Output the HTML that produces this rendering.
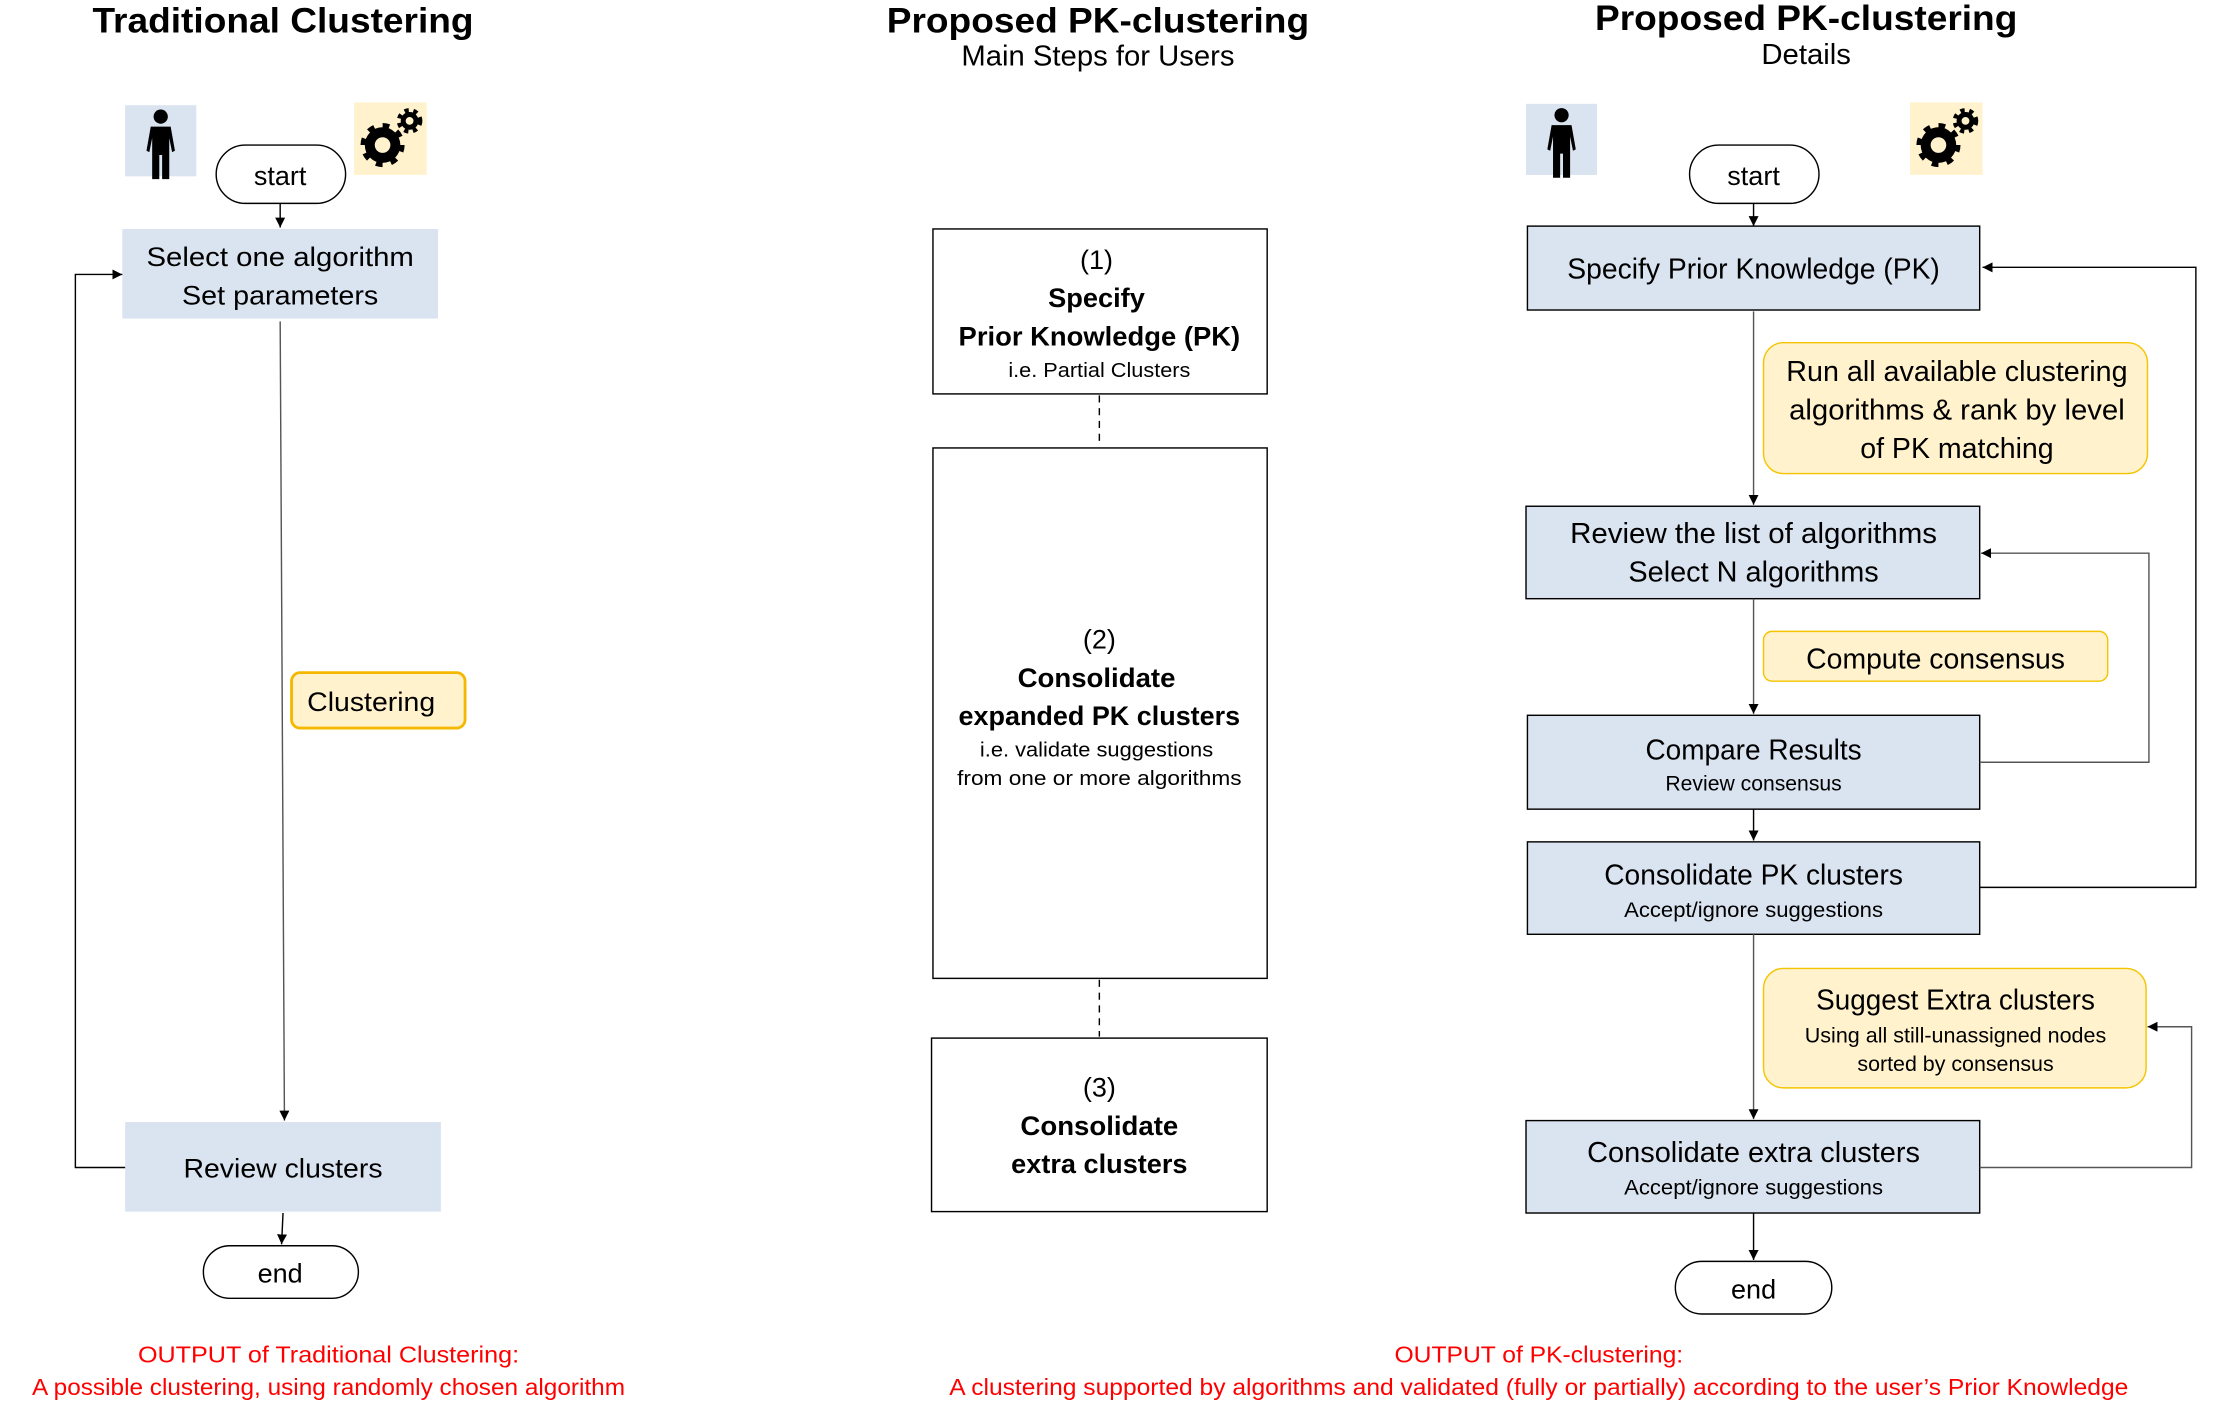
<!DOCTYPE html>
<html><head><meta charset="utf-8"><style>
html,body{margin:0;padding:0;background:#fff;}
svg{display:block;}
text{font-family:"Liberation Sans",sans-serif;}
.c{text-anchor:middle;}
</style></head><body>
<svg width="2230" height="1405" viewBox="0 0 1568 988" preserveAspectRatio="none" xmlns="http://www.w3.org/2000/svg">
<defs>
<marker id="a" viewBox="0 0 10 10" refX="10" refY="5" markerWidth="7" markerHeight="7" orient="auto" markerUnits="userSpaceOnUse"><path d="M0,0 L10,5 L0,10 z" fill="#000"/></marker>
<g id="person"><circle cx="0" cy="-19" r="5" fill="#000"/><path d="M-7,-12 L7,-12 L10,5 L8,6 L6,-4 L6,25 L1,25 L1,8 L-1,8 L-1,25 L-6,25 L-6,-4 L-8,6 L-10,5 Z" fill="#000"/></g>
<g id="gear"><circle cx="-8" cy="6" r="9" fill="none" stroke="#000" stroke-width="7"/><circle cx="-8" cy="6" r="13" fill="none" stroke="#000" stroke-width="5" stroke-dasharray="4.5 5.7"/><circle cx="11" cy="-11" r="4.5" fill="none" stroke="#000" stroke-width="3.5"/><circle cx="11" cy="-11" r="7.5" fill="none" stroke="#000" stroke-width="3" stroke-dasharray="3 3.3"/></g>
</defs>
<!-- LEFT -->
<text x="199" y="23" class="c" font-size="25" font-weight="bold" textLength="268" lengthAdjust="spacingAndGlyphs">Traditional Clustering</text>
<rect x="88" y="74" width="50" height="50" fill="#dae3f0"/>
<use href="#person" x="113" y="101"/>
<rect x="249" y="72" width="51" height="51" fill="#fff2cc"/>
<use href="#gear" x="277" y="96"/>
<rect x="152" y="102" width="91" height="41" rx="20.5" fill="#fff" stroke="#000"/>
<text x="197" y="130" class="c" font-size="19">start</text>
<line x1="197" y1="143" x2="197" y2="160" stroke="#000" marker-end="url(#a)"/>
<rect x="86" y="161" width="222" height="63" fill="#dae3f0"/>
<text x="197" y="187" class="c" font-size="19" textLength="188" lengthAdjust="spacingAndGlyphs">Select one algorithm</text>
<text x="197" y="214" class="c" font-size="19" textLength="138" lengthAdjust="spacingAndGlyphs">Set parameters</text>
<line x1="197" y1="226" x2="200" y2="788" stroke="#555" marker-end="url(#a)"/>
<rect x="205" y="473" width="122" height="39" rx="6" fill="#fff2cc" stroke="#f5b800" stroke-width="2"/>
<text x="261" y="500" class="c" font-size="19" textLength="90" lengthAdjust="spacingAndGlyphs">Clustering</text>
<rect x="88" y="789" width="222" height="63" fill="#dae3f0"/>
<text x="199" y="828" class="c" font-size="19" textLength="140" lengthAdjust="spacingAndGlyphs">Review clusters</text>
<polyline points="88,821 53,821 53,193 86,193" fill="none" stroke="#000" marker-end="url(#a)"/>
<line x1="199" y1="853" x2="198" y2="875" stroke="#000" marker-end="url(#a)"/>
<rect x="143" y="876" width="109" height="37" rx="18.5" fill="#fff" stroke="#000"/>
<text x="197" y="902" class="c" font-size="19">end</text>
<text x="231" y="958" class="c" font-size="16" fill="#f00" textLength="268" lengthAdjust="spacingAndGlyphs">OUTPUT of Traditional Clustering:</text>
<text x="231" y="981" class="c" font-size="16" fill="#f00" textLength="417" lengthAdjust="spacingAndGlyphs">A possible clustering, using randomly chosen algorithm</text>
<!-- MIDDLE -->
<text x="772" y="23" class="c" font-size="25" font-weight="bold" textLength="297" lengthAdjust="spacingAndGlyphs">Proposed PK-clustering</text>
<text x="772" y="46" class="c" font-size="20" textLength="192" lengthAdjust="spacingAndGlyphs">Main Steps for Users</text>
<rect x="656" y="161" width="235" height="116" fill="#fff" stroke="#000"/>
<text x="771" y="189" class="c" font-size="19">(1)</text>
<text x="771" y="216" class="c" font-size="19" font-weight="bold" textLength="68" lengthAdjust="spacingAndGlyphs">Specify</text>
<text x="773" y="243" class="c" font-size="19" font-weight="bold" textLength="198" lengthAdjust="spacingAndGlyphs">Prior Knowledge (PK)</text>
<text x="773" y="265" class="c" font-size="14" textLength="128" lengthAdjust="spacingAndGlyphs">i.e. Partial Clusters</text>
<line x1="773" y1="278" x2="773" y2="314" stroke="#000" stroke-dasharray="5 4"/>
<rect x="656" y="315" width="235" height="373" fill="#fff" stroke="#000"/>
<text x="773" y="456" class="c" font-size="19">(2)</text>
<text x="771" y="483" class="c" font-size="19" font-weight="bold" textLength="111" lengthAdjust="spacingAndGlyphs">Consolidate</text>
<text x="773" y="510" class="c" font-size="19" font-weight="bold" textLength="198" lengthAdjust="spacingAndGlyphs">expanded PK clusters</text>
<text x="771" y="532" class="c" font-size="14" textLength="164" lengthAdjust="spacingAndGlyphs">i.e. validate suggestions</text>
<text x="773" y="552" class="c" font-size="14" textLength="200" lengthAdjust="spacingAndGlyphs">from one or more algorithms</text>
<line x1="773" y1="689" x2="773" y2="729" stroke="#000" stroke-dasharray="5 4"/>
<rect x="655" y="730" width="236" height="122" fill="#fff" stroke="#000"/>
<text x="773" y="771" class="c" font-size="19">(3)</text>
<text x="773" y="798" class="c" font-size="19" font-weight="bold" textLength="111" lengthAdjust="spacingAndGlyphs">Consolidate</text>
<text x="773" y="825" class="c" font-size="19" font-weight="bold" textLength="124" lengthAdjust="spacingAndGlyphs">extra clusters</text>
<text x="1082" y="958" class="c" font-size="16" fill="#f00" textLength="203" lengthAdjust="spacingAndGlyphs">OUTPUT of PK-clustering:</text>
<text x="1082" y="981" class="c" font-size="16" fill="#f00" textLength="829" lengthAdjust="spacingAndGlyphs">A clustering supported by algorithms and validated (fully or partially) according to the user’s Prior Knowledge</text>
<!-- RIGHT -->
<text x="1270" y="21" class="c" font-size="25" font-weight="bold" textLength="297" lengthAdjust="spacingAndGlyphs">Proposed PK-clustering</text>
<text x="1270" y="45" class="c" font-size="20" textLength="63" lengthAdjust="spacingAndGlyphs">Details</text>
<rect x="1073" y="73" width="50" height="50" fill="#dae3f0"/>
<use href="#person" x="1098" y="100"/>
<rect x="1343" y="72" width="51" height="51" fill="#fff2cc"/>
<use href="#gear" x="1371" y="96"/>
<rect x="1188" y="102" width="91" height="41" rx="20.5" fill="#fff" stroke="#000"/>
<text x="1233" y="130" class="c" font-size="19">start</text>
<line x1="1233" y1="143" x2="1233" y2="159" stroke="#000" marker-end="url(#a)"/>
<rect x="1074" y="159" width="318" height="59" fill="#dae3f0" stroke="#000"/>
<text x="1233" y="196" class="c" font-size="20" textLength="262" lengthAdjust="spacingAndGlyphs">Specify Prior Knowledge (PK)</text>
<line x1="1233" y1="219" x2="1233" y2="355" stroke="#555" marker-end="url(#a)"/>
<rect x="1240" y="241" width="270" height="92" rx="14" fill="#fff2cc" stroke="#f5c400"/>
<text x="1376" y="268" class="c" font-size="20" textLength="240" lengthAdjust="spacingAndGlyphs">Run all available clustering</text>
<text x="1376" y="295" class="c" font-size="20" textLength="236" lengthAdjust="spacingAndGlyphs">algorithms &amp; rank by level</text>
<text x="1376" y="322" class="c" font-size="20" textLength="136" lengthAdjust="spacingAndGlyphs">of PK matching</text>
<rect x="1073" y="356" width="319" height="65" fill="#dae3f0" stroke="#000"/>
<text x="1233" y="382" class="c" font-size="20" textLength="258" lengthAdjust="spacingAndGlyphs">Review the list of algorithms</text>
<text x="1233" y="409" class="c" font-size="20" textLength="176" lengthAdjust="spacingAndGlyphs">Select N algorithms</text>
<rect x="1240" y="444" width="242" height="35" rx="6" fill="#fff2cc" stroke="#f5c400"/>
<text x="1361" y="470" class="c" font-size="20" textLength="182" lengthAdjust="spacingAndGlyphs">Compute consensus</text>
<line x1="1233" y1="421" x2="1233" y2="502" stroke="#555" marker-end="url(#a)"/>
<rect x="1074" y="503" width="318" height="66" fill="#dae3f0" stroke="#000"/>
<text x="1233" y="534" class="c" font-size="20" textLength="152" lengthAdjust="spacingAndGlyphs">Compare Results</text>
<text x="1233" y="556" class="c" font-size="15" textLength="124" lengthAdjust="spacingAndGlyphs">Review consensus</text>
<line x1="1233" y1="569" x2="1233" y2="591" stroke="#000" marker-end="url(#a)"/>
<rect x="1074" y="592" width="318" height="65" fill="#dae3f0" stroke="#000"/>
<text x="1233" y="622" class="c" font-size="20" textLength="210" lengthAdjust="spacingAndGlyphs">Consolidate PK clusters</text>
<text x="1233" y="645" class="c" font-size="15" textLength="182" lengthAdjust="spacingAndGlyphs">Accept/ignore suggestions</text>
<line x1="1233" y1="657" x2="1233" y2="787" stroke="#555" marker-end="url(#a)"/>
<rect x="1240" y="681" width="269" height="84" rx="14" fill="#fff2cc" stroke="#f5c400"/>
<text x="1375" y="710" class="c" font-size="20" textLength="196" lengthAdjust="spacingAndGlyphs">Suggest Extra clusters</text>
<text x="1375" y="733" class="c" font-size="15" textLength="212" lengthAdjust="spacingAndGlyphs">Using all still-unassigned nodes</text>
<text x="1375" y="753" class="c" font-size="15" textLength="138" lengthAdjust="spacingAndGlyphs">sorted by consensus</text>
<rect x="1073" y="788" width="319" height="65" fill="#dae3f0" stroke="#000"/>
<text x="1233" y="817" class="c" font-size="20" textLength="234" lengthAdjust="spacingAndGlyphs">Consolidate extra clusters</text>
<text x="1233" y="840" class="c" font-size="15" textLength="182" lengthAdjust="spacingAndGlyphs">Accept/ignore suggestions</text>
<line x1="1233" y1="853" x2="1233" y2="886" stroke="#000" marker-end="url(#a)"/>
<rect x="1178" y="887" width="110" height="37" rx="18.5" fill="#fff" stroke="#000"/>
<text x="1233" y="913" class="c" font-size="19">end</text>
<polyline points="1392,536 1511,536 1511,389 1393,389" fill="none" stroke="#555" marker-end="url(#a)"/>
<polyline points="1392,624 1544,624 1544,188 1394,188" fill="none" stroke="#000" marker-end="url(#a)"/>
<polyline points="1392,821 1541,821 1541,722 1510,722" fill="none" stroke="#555" marker-end="url(#a)"/>
</svg>
</body></html>
